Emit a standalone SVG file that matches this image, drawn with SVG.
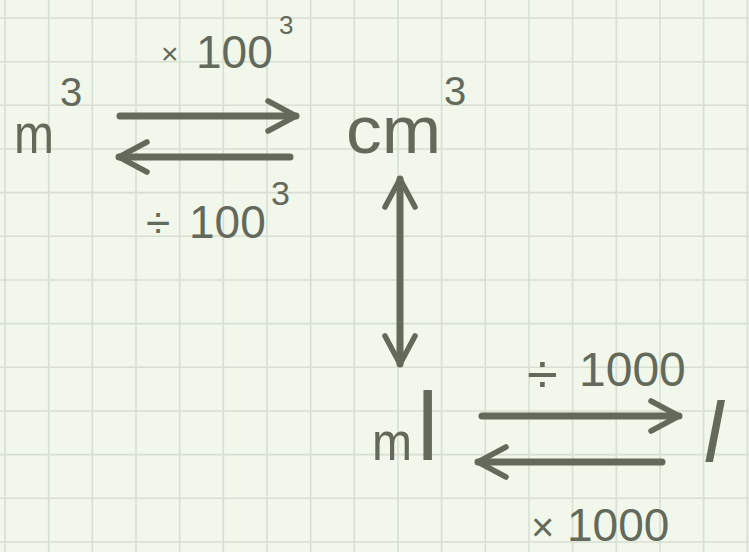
<svg xmlns="http://www.w3.org/2000/svg" width="749" height="552" viewBox="0 0 749 552">
<defs>
<style>
.ink{fill:#636a5b;font-family:"Liberation Sans",Arial,sans-serif}
.ln{stroke:#636a5b;stroke-width:7;stroke-linecap:round;fill:none}
.grid line{stroke:#d7ded2;stroke-width:1.6}
</style>
<marker id="hd" markerUnits="userSpaceOnUse" viewBox="-36 -20 40 40" markerWidth="40" markerHeight="40" refX="0" refY="0" orient="auto-start-reverse" overflow="visible">
<path d="M-28,-15 L0,0 L-28,15" fill="none" stroke="#636a5b" stroke-width="5.5" stroke-linecap="round" stroke-linejoin="round"/>
</marker>
</defs>
<rect width="749" height="552" fill="#f1f7eb"/>
<g class="grid">
<line x1="5" y1="0" x2="5" y2="552"/><line x1="48.7" y1="0" x2="48.7" y2="552"/><line x1="92.3" y1="0" x2="92.3" y2="552"/><line x1="136" y1="0" x2="136" y2="552"/><line x1="179.7" y1="0" x2="179.7" y2="552"/><line x1="223.3" y1="0" x2="223.3" y2="552"/><line x1="267" y1="0" x2="267" y2="552"/><line x1="310.7" y1="0" x2="310.7" y2="552"/><line x1="354.3" y1="0" x2="354.3" y2="552"/><line x1="398" y1="0" x2="398" y2="552"/><line x1="441.6" y1="0" x2="441.6" y2="552"/><line x1="485.3" y1="0" x2="485.3" y2="552"/><line x1="529" y1="0" x2="529" y2="552"/><line x1="572.6" y1="0" x2="572.6" y2="552"/><line x1="616.3" y1="0" x2="616.3" y2="552"/><line x1="660" y1="0" x2="660" y2="552"/><line x1="703.6" y1="0" x2="703.6" y2="552"/><line x1="747.3" y1="0" x2="747.3" y2="552"/>
<line x1="0" y1="18" x2="749" y2="18"/><line x1="0" y1="61.7" x2="749" y2="61.7"/><line x1="0" y1="105.3" x2="749" y2="105.3"/><line x1="0" y1="149" x2="749" y2="149"/><line x1="0" y1="192.6" x2="749" y2="192.6"/><line x1="0" y1="236.3" x2="749" y2="236.3"/><line x1="0" y1="280" x2="749" y2="280"/><line x1="0" y1="323.6" x2="749" y2="323.6"/><line x1="0" y1="367.3" x2="749" y2="367.3"/><line x1="0" y1="411" x2="749" y2="411"/><line x1="0" y1="454.6" x2="749" y2="454.6"/><line x1="0" y1="498.3" x2="749" y2="498.3"/><line x1="0" y1="542" x2="749" y2="542"/>
</g>
<g id="node-m3">
<text class="ink" x="14" y="153" font-size="56"><tspan textLength="40" lengthAdjust="spacingAndGlyphs">m</tspan><tspan x="60" y="106" font-size="40">3</tspan></text>
</g>
<g id="node-cm3">
<text class="ink" x="346" y="153" font-size="66"><tspan textLength="95" lengthAdjust="spacingAndGlyphs">cm</tspan><tspan x="444" y="105" font-size="40">3</tspan></text>
</g>
<g id="node-ml">
<text class="ink" x="372" y="460" font-size="54"><tspan textLength="40" lengthAdjust="spacingAndGlyphs">m</tspan><tspan x="417" font-size="96">l</tspan></text>
</g>
<g id="node-l">
<text class="ink" x="704" y="462" font-size="86" font-style="italic">l</text>
</g>
<g id="connectors">
<path class="ln" d="M120,116 L296,116" marker-end="url(#hd)"/>
<path class="ln" d="M290,157 L119,157" marker-end="url(#hd)"/>
<path class="ln" d="M400,179 L400,364" marker-start="url(#hd)" marker-end="url(#hd)"/>
<path class="ln" d="M482,416 L679,416" marker-end="url(#hd)"/>
<path class="ln" d="M662,462 L478,462" marker-end="url(#hd)"/>
<text class="ink" x="161" y="64" font-size="30">×<tspan x="196" y="68" font-size="46">100</tspan><tspan x="279" y="34" font-size="26">3</tspan></text>
<text class="ink" x="146" y="238" font-size="44">÷<tspan x="189" font-size="46">100</tspan><tspan x="271" y="205" font-size="34">3</tspan></text>
<text class="ink" x="527" y="393" font-size="56">÷<tspan x="579" y="386" font-size="48">1000</tspan></text>
<text class="ink" x="531" y="541" font-size="40">×<tspan x="567" font-size="46">1000</tspan></text>
</g>
</svg>
